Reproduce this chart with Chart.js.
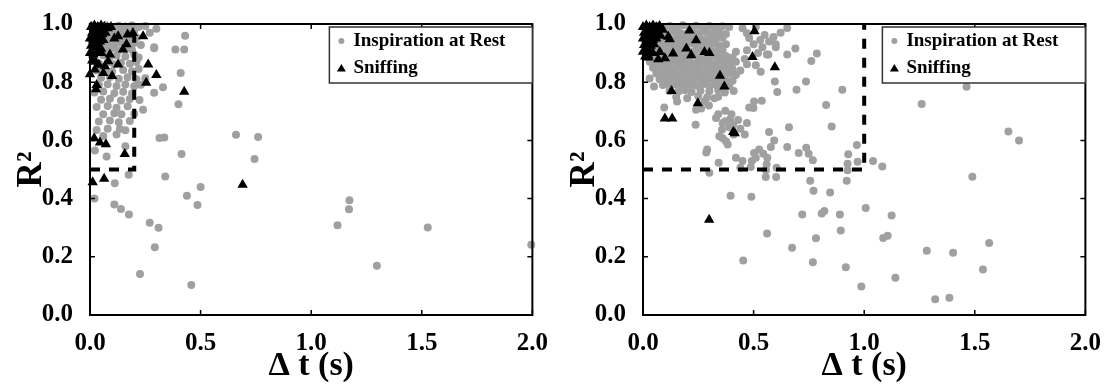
<!DOCTYPE html>
<html>
<head>
<meta charset="utf-8">
<script src="https://cdn.jsdelivr.net/npm/chart.js@4.4.1/dist/chart.umd.min.js"></script>
<style>
  body { margin: 0; background: #fff; }
  #wrap { position: relative; width: 1109px; height: 385px; }
  canvas { position: absolute; top: 0; }
  #chartRest { left: 0; }
  #chartSniff { left: 553px; }
</style>
</head>
<body>
<div id="wrap">
  <canvas id="chartRest" width="554" height="385"></canvas>
  <canvas id="chartSniff" width="554" height="385"></canvas>
</div>
<script>
// [delta t (s), R^2] pairs
const restLeft = [
  [0.01,0.995],[0.04,0.992],[0.07,0.996],[0.10,0.99],[0.13,0.994],[0.16,0.991],[0.19,0.995],[0.22,0.99],[0.25,0.993],
  [0.02,0.975],[0.05,0.972],[0.08,0.977],[0.11,0.97],[0.14,0.975],[0.17,0.971],[0.20,0.976],[0.27,0.97],
  [0.03,0.955],[0.06,0.951],[0.09,0.957],[0.12,0.952],[0.15,0.956],[0.18,0.95],[0.21,0.954],
  [0.01,0.935],[0.05,0.932],[0.08,0.937],[0.11,0.93],[0.14,0.936],[0.17,0.931],[0.20,0.935],[0.23,0.928],
  [0.03,0.915],[0.07,0.912],[0.10,0.917],[0.13,0.91],[0.16,0.914],[0.19,0.911],[0.29,0.917],
  [0.02,0.89],[0.06,0.893],[0.09,0.887],[0.12,0.892],[0.16,0.888],[0.20,0.894],[0.22,0.885],
  [0.04,0.865],[0.08,0.868],[0.11,0.862],[0.14,0.867],[0.18,0.863],[0.21,0.869],
  [0.03,0.84],[0.07,0.843],[0.10,0.837],[0.15,0.842],[0.19,0.838],[0.22,0.845],
  [0.05,0.815],[0.09,0.818],[0.13,0.812],[0.17,0.817],[0.21,0.81],[0.25,0.814],
  [0.04,0.79],[0.08,0.793],[0.12,0.787],[0.16,0.792],[0.20,0.786],[0.23,0.791],
  [0.02,0.765],[0.06,0.768],[0.11,0.762],[0.15,0.767],[0.19,0.761],
  [0.05,0.74],[0.09,0.743],[0.14,0.737],[0.18,0.742],[0.224,0.739],
  [0.03,0.715],[0.08,0.718],[0.12,0.712],[0.17,0.717],[0.24,0.705],
  [0.06,0.69],[0.11,0.693],[0.142,0.69],[0.20,0.692],
  [0.04,0.665],[0.09,0.668],[0.13,0.662],[0.18,0.667],
  [0.03,0.636],[0.08,0.64],[0.135,0.639],[0.16,0.635],
  [0.06,0.615],[0.12,0.62],
  [0.30,0.984],[0.43,0.96],[0.386,0.912],[0.426,0.912],[0.29,0.92],[0.41,0.832],[0.33,0.783],
  [0.29,0.764],[0.40,0.724],[0.66,0.619],[0.76,0.612],[0.744,0.536],[0.414,0.553],[0.336,0.61],
  [0.314,0.608],[0.34,0.476],[0.50,0.44],[0.438,0.41],[0.112,0.453],[0.175,0.482],[0.16,0.58],
  [0.075,0.545],[0.022,0.565],[0.02,0.40],[0.11,0.38],[0.14,0.364],[0.176,0.345],[0.27,0.317],
  [0.31,0.30],[0.293,0.233],[0.226,0.141],[0.486,0.378],[0.458,0.103],[1.119,0.308],[1.173,0.394],
  [1.171,0.363],[1.297,0.169],[1.527,0.301],[1.995,0.241]
];
const sniffLeft = [
  [0.005,0.99],[0.02,0.995],[0.035,0.99],[0.05,0.995],[0.065,0.99],[0.08,0.985],[0.095,0.99],
  [0.01,0.97],[0.025,0.965],[0.04,0.975],[0.055,0.965],[0.07,0.97],
  [0.0,0.95],[0.015,0.945],[0.03,0.95],[0.045,0.94],[0.06,0.945],
  [0.005,0.925],[0.02,0.92],[0.035,0.925],[0.05,0.915],
  [0.0,0.9],[0.015,0.895],[0.03,0.9],[0.052,0.9],[0.01,0.875],[0.025,0.87],[0.04,0.86],
  [0.24,0.958],[0.263,0.861],[0.30,0.825],[0.426,0.767],[0.69,0.448],[0.157,0.553],[0.019,0.607],
  [0.045,0.593],[0.072,0.587],[0.064,0.468],[0.012,0.456],[0.0,0.827],[0.022,0.844],[0.027,0.776],
  [0.03,0.79],[0.10,0.821],[0.06,0.832],[0.082,0.872],[0.067,0.855],[0.149,0.912],[0.17,0.964],
  [0.194,0.969],[0.127,0.958],[0.165,0.93],[0.09,0.895],[0.127,0.861],[0.254,0.798],[0.11,0.95]
];
const restRight = [
  [0.03,0.99],[0.06,0.995],[0.09,0.988],[0.12,0.993],[0.15,0.99],[0.18,0.996],[0.21,0.989],[0.24,0.994],
  [0.27,0.99],[0.30,0.993],[0.33,0.987],[0.36,0.992],[0.39,0.99],[0.45,0.985],[0.51,0.99],
  [0.045,0.97],[0.075,0.972],[0.105,0.968],[0.135,0.974],[0.165,0.97],[0.195,0.967],[0.225,0.973],
  [0.255,0.969],[0.285,0.972],[0.315,0.968],[0.345,0.971],[0.375,0.966],[0.47,0.968],[0.55,0.962],[0.59,0.955],
  [0.03,0.95],[0.06,0.948],[0.09,0.953],[0.12,0.949],[0.15,0.951],[0.18,0.947],[0.21,0.952],[0.24,0.95],
  [0.27,0.946],[0.30,0.951],[0.33,0.948],[0.36,0.953],[0.48,0.952],[0.53,0.945],[0.57,0.94],
  [0.045,0.93],[0.075,0.928],[0.105,0.932],[0.135,0.927],[0.165,0.931],[0.195,0.929],[0.225,0.933],
  [0.255,0.927],[0.285,0.93],[0.315,0.932],[0.345,0.926],[0.375,0.93],[0.50,0.93],[0.54,0.92],[0.60,0.93],
  [0.03,0.91],[0.06,0.907],[0.09,0.912],[0.12,0.908],[0.15,0.91],[0.18,0.913],[0.21,0.906],[0.24,0.911],
  [0.27,0.908],[0.30,0.912],[0.33,0.907],[0.36,0.91],[0.42,0.905],[0.47,0.91],[0.52,0.9],
  [0.045,0.89],[0.075,0.888],[0.105,0.892],[0.135,0.887],[0.165,0.891],[0.195,0.889],[0.225,0.893],
  [0.255,0.886],[0.285,0.89],[0.315,0.892],[0.345,0.887],[0.375,0.89],[0.405,0.885],[0.46,0.88],[0.56,0.895],
  [0.03,0.87],[0.06,0.868],[0.09,0.872],[0.12,0.867],[0.15,0.871],[0.18,0.869],[0.21,0.873],[0.24,0.866],
  [0.27,0.87],[0.30,0.872],[0.33,0.867],[0.36,0.871],[0.39,0.866],[0.42,0.87],[0.47,0.862],[0.51,0.858],
  [0.045,0.85],[0.075,0.848],[0.105,0.852],[0.135,0.847],[0.165,0.851],[0.195,0.849],[0.225,0.853],
  [0.255,0.846],[0.285,0.85],[0.315,0.852],[0.345,0.847],[0.375,0.851],[0.405,0.845],[0.44,0.84],
  [0.06,0.83],[0.09,0.828],[0.12,0.832],[0.15,0.827],[0.18,0.831],[0.21,0.829],[0.24,0.833],[0.27,0.826],
  [0.30,0.83],[0.33,0.832],[0.36,0.827],[0.39,0.831],[0.42,0.825],[0.532,0.836],
  [0.03,0.813],[0.075,0.81],[0.105,0.808],[0.135,0.812],[0.165,0.807],[0.195,0.811],[0.225,0.809],
  [0.255,0.813],[0.285,0.806],[0.315,0.81],[0.345,0.812],[0.375,0.807],[0.405,0.805],[0.596,0.802],
  [0.05,0.785],[0.09,0.79],[0.12,0.788],[0.15,0.792],[0.18,0.787],[0.21,0.791],[0.24,0.789],[0.27,0.793],
  [0.30,0.786],[0.33,0.79],[0.36,0.792],[0.39,0.787],
  [0.12,0.77],[0.16,0.768],[0.19,0.772],[0.22,0.766],[0.26,0.771],[0.30,0.769],[0.34,0.773],[0.37,0.765],
  [0.41,0.77],[0.607,0.766],[0.15,0.75],[0.2,0.745],[0.25,0.752],[0.29,0.748],[0.34,0.75],
  [0.096,0.713],[0.154,0.734],[0.238,0.654],[0.24,0.705],[0.263,0.71],[0.278,0.734],[0.298,0.72],
  [0.323,0.745],[0.33,0.677],[0.372,0.702],[0.372,0.666],[0.393,0.672],[0.408,0.654],[0.357,0.637],
  [0.39,0.645],[0.345,0.614],[0.375,0.597],[0.36,0.607],[0.383,0.586],[0.29,0.569],[0.286,0.558],
  [0.30,0.489],[0.342,0.523],[0.396,0.41],[0.49,0.406],[0.44,0.506],[0.45,0.529],[0.492,0.529],
  [0.487,0.509],[0.42,0.54],[0.34,0.69],[0.36,0.66],[0.40,0.69],[0.43,0.67],[0.41,0.62],[0.44,0.64],
  [0.47,0.66],[0.46,0.62],
  [0.499,0.711],[0.537,0.736],[0.502,0.734],[0.48,0.713],[0.57,0.629],[0.593,0.60],[0.578,0.577],
  [0.544,0.554],[0.525,0.569],[0.502,0.557],[0.51,0.54],[0.559,0.518],[0.556,0.498],[0.555,0.474],
  [0.602,0.474],[0.604,0.506],[0.562,0.54],
  [0.652,0.577],[0.704,0.557],[0.738,0.575],[0.768,0.532],[0.749,0.554],[0.967,0.584],[0.928,0.552],
  [0.925,0.52],[0.925,0.497],[0.97,0.527],[0.756,0.461],[0.771,0.427],[0.846,0.421],[0.921,0.461],
  [0.652,0.986],[0.622,0.97],[0.60,0.92],[0.567,0.895],[0.652,0.895],[0.689,0.916],[0.786,0.899],
  [0.761,0.873],[0.737,0.802],[0.694,0.774],[0.901,0.774],[0.828,0.722],[0.853,0.648],[0.66,0.645],
  [0.72,0.345],[0.808,0.349],[0.82,0.357],[0.89,0.345],[1.007,0.368],[1.124,0.342],[0.561,0.28],
  [0.894,0.29],[0.782,0.264],[1.086,0.265],[1.106,0.272],[0.674,0.231],[0.453,0.187],[0.768,0.181],
  [0.917,0.164],[0.987,0.098],[1.141,0.128],[1.283,0.221],[1.402,0.214],[1.565,0.247],[1.537,0.156],
  [1.321,0.054],[1.385,0.059],
  [1.463,0.784],[1.26,0.725],[1.652,0.631],[1.70,0.60],[1.489,0.475],[1.04,0.529],[1.082,0.51]
];
const sniffRight = [
  [0.0,0.99],[0.015,0.995],[0.03,0.99],[0.045,0.995],[0.06,0.988],[0.075,0.993],
  [0.005,0.97],[0.02,0.975],[0.035,0.968],[0.05,0.972],[0.065,0.966],
  [0.0,0.95],[0.015,0.948],[0.03,0.953],[0.045,0.945],[0.06,0.95],
  [0.005,0.928],[0.02,0.932],[0.035,0.925],[0.05,0.93],
  [0.0,0.905],[0.015,0.91],[0.03,0.905],[0.045,0.9],[0.01,0.888],[0.025,0.885],[0.08,0.96],[0.09,0.98],
  [0.504,0.975],[0.495,0.887],[0.596,0.851],[0.348,0.822],[0.368,0.785],[0.248,0.728],[0.129,0.77],
  [0.099,0.675],[0.132,0.675],[0.408,0.629],[0.415,0.625],[0.21,0.978],[0.24,0.944],[0.196,0.916],
  [0.218,0.893],[0.278,0.904],[0.30,0.90],[0.114,0.956],[0.121,0.948],[0.076,0.904],[0.136,0.899],
  [0.069,0.879],[0.099,0.882],[0.024,0.893],[0.299,0.327]
];
// dashed cut-off boxes
const cutLeft = [[0, 0.5], [0.2, 0.5], [0.2, 1.0]];
const cutRight = [[0, 0.5], [1.0, 0.5], [1.0, 1.0]];

const xTicks = [0, 0.5, 1.0, 1.5, 2.0];
const yTicks = [0, 0.2, 0.4, 0.6, 0.8, 1.0];
const seriesNames = ['Inspiration at Rest', 'Sniffing'];

const serif = 'Liberation Serif, Times New Roman, serif';
const grey = '#a0a0a0';

const pts = arr => arr.map(([x, y]) => ({x, y}));

// plot frame with inward ticks on all four sides
const framePlugin = {
  id: 'frame',
  afterDatasetsDraw(chart) {
    const {ctx, chartArea: a, scales: {x, y}} = chart;
    ctx.save();
    ctx.strokeStyle = '#000';
    ctx.lineWidth = 1.5;
    ctx.beginPath();
    yTicks.forEach(v => {
      const p = y.getPixelForValue(v);
      ctx.moveTo(a.left, p); ctx.lineTo(a.left + 5, p);
      ctx.moveTo(a.right, p); ctx.lineTo(a.right - 5, p);
    });
    xTicks.forEach(v => {
      const p = x.getPixelForValue(v);
      ctx.moveTo(p, a.top); ctx.lineTo(p, a.top + 5);
      ctx.moveTo(p, a.bottom); ctx.lineTo(p, a.bottom - 5);
    });
    ctx.stroke();
    ctx.lineWidth = 2;
    ctx.strokeRect(a.left, a.top, a.right - a.left, a.bottom - a.top);
    ctx.restore();
  }
};

// boxed legend in the upper right corner
const boxLegend = {
  id: 'boxLegend',
  afterDraw(chart) {
    const {ctx, chartArea: a} = chart;
    const w = 203, h = 56;
    const left = a.right - w, top = a.top + 3;
    const rest = chart.data.datasets.find(d => d.label === seriesNames[0]);
    const sniff = chart.data.datasets.find(d => d.label === seriesNames[1]);
    ctx.save();
    ctx.fillStyle = '#fff';
    ctx.fillRect(left, top, w, h);
    ctx.strokeStyle = '#333';
    ctx.lineWidth = 1.5;
    ctx.strokeRect(left, top, w, h);
    ctx.font = 'bold 19px ' + serif;
    ctx.textBaseline = 'middle';
    const rows = [top + 14, top + 41];
    // circle marker
    ctx.fillStyle = rest.backgroundColor;
    ctx.beginPath();
    ctx.arc(left + 12, rows[0], 3, 0, Math.PI * 2);
    ctx.fill();
    // triangle marker
    ctx.fillStyle = sniff.backgroundColor;
    ctx.beginPath();
    ctx.moveTo(left + 12, rows[1] - 4);
    ctx.lineTo(left + 16.5, rows[1] + 3.5);
    ctx.lineTo(left + 7.5, rows[1] + 3.5);
    ctx.closePath();
    ctx.fill();
    ctx.fillStyle = '#000';
    ctx.fillText(rest.label, left + 24, rows[0]);
    ctx.fillText(sniff.label, left + 24, rows[1]);
    ctx.restore();
  }
};

function makeChart(id, rest, sniff, cut) {
  return new Chart(document.getElementById(id), {
    type: 'scatter',
    data: {
      datasets: [
        {
          label: seriesNames[1], data: pts(sniff), order: 0, clip: false,
          pointStyle: 'triangle', pointRadius: 6, pointHoverRadius: 6,
          backgroundColor: '#000', borderWidth: 0
        },
        {
          label: 'cut-off', data: pts(cut), order: 1, clip: false,
          showLine: true, borderColor: '#000', borderWidth: 4, borderDash: [10, 9],
          borderCapStyle: 'butt', pointRadius: 0, fill: false
        },
        {
          label: seriesNames[0], data: pts(rest), order: 2, clip: false,
          pointStyle: 'circle', pointRadius: 4, pointHoverRadius: 4,
          backgroundColor: grey, borderWidth: 0
        }
      ]
    },
    options: {
      responsive: false,
      animation: false,
      layout: { padding: { top: 22, right: 18, left: 0, bottom: 0 } },
      plugins: { legend: { display: false }, tooltip: { enabled: false } },
      scales: {
        x: {
          type: 'linear', min: 0, max: 2,
          grid: { display: false }, border: { display: false },
          afterFit: s => { s.height = 70; },
          ticks: {
            stepSize: 0.5, padding: 6, color: '#000',
            font: { family: serif, size: 25, weight: 'bold' },
            callback: v => v.toFixed(1)
          },
          title: {
            display: true, text: 'Δ t (s)', color: '#000', padding: { top: 0, bottom: -2 },
            font: { family: serif, size: 34, weight: 'bold' }
          }
        },
        y: {
          type: 'linear', min: 0, max: 1,
          grid: { display: false }, border: { display: false },
          afterFit: s => { s.width = 90; },
          ticks: {
            stepSize: 0.2, padding: 9, color: '#000',
            font: { family: serif, size: 25, weight: 'bold' },
            callback: v => v.toFixed(1)
          },
          title: {
            display: true, text: 'R²', color: '#000', padding: { top: 11, bottom: 0 },
            font: { family: serif, size: 35, weight: 'bold' }
          }
        }
      }
    },
    plugins: [framePlugin, boxLegend]
  });
}

makeChart('chartRest', restLeft, sniffLeft, cutLeft);
makeChart('chartSniff', restRight, sniffRight, cutRight);
</script>
</body>
</html>
